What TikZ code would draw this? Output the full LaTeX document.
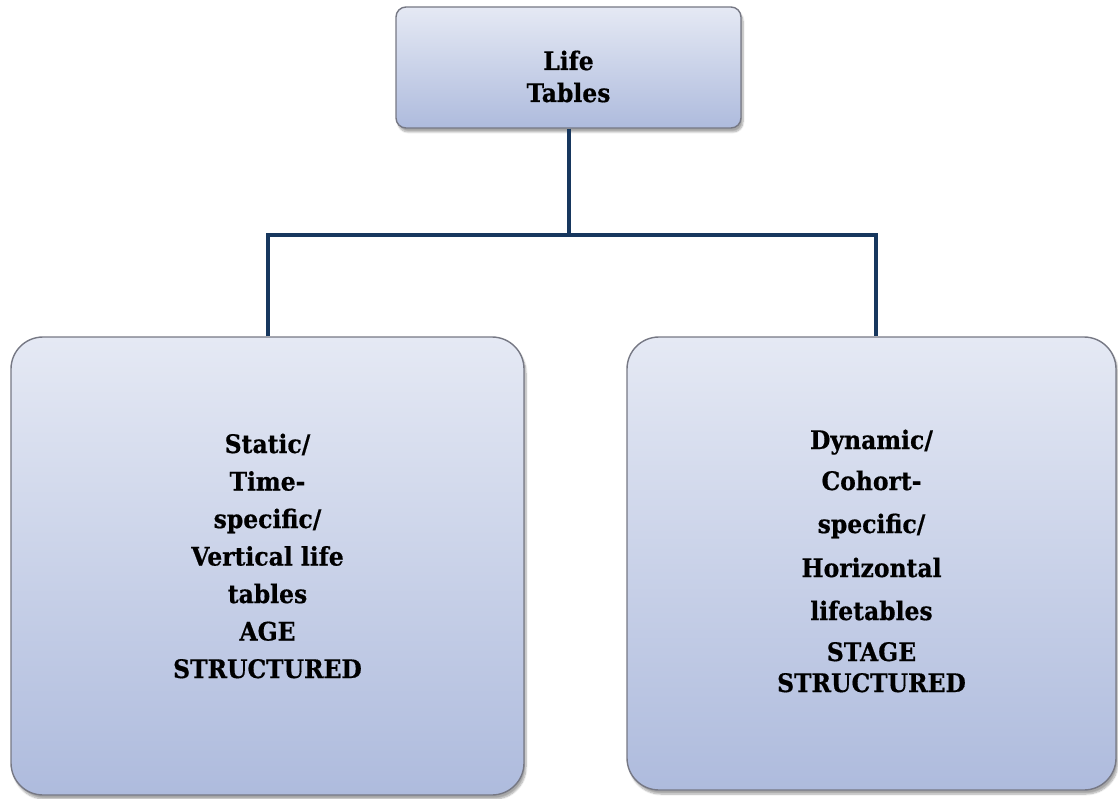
\documentclass[tikz,border=0pt]{standalone}
\usepackage{fontspec}
\newfontfamily\lblfont{DejaVu Serif}[FakeStretch=0.92, BoldFeatures={FakeBold=0.6}]
\usetikzlibrary{shadows.blur}
\definecolor{boxtop}{RGB}{229,233,244}
\definecolor{boxbot}{RGB}{174,187,221}
\definecolor{boxedge}{RGB}{118,120,132}
\definecolor{navy}{RGB}{23,55,94}
\tikzset{
  box/.style={draw=boxedge, line width=1.4pt, top color=boxtop, bottom color=boxbot,
    inner sep=0pt,
    blur shadow={shadow xshift=2pt, shadow yshift=-4pt, shadow blur steps=8, shadow opacity=35}},
  bigbox/.style={box, rounded corners=32pt},
  topbox/.style={box, rounded corners=10pt},
  lbl/.style={font=\lblfont\bfseries\fontsize{25.5}{30}\selectfont, text=black, inner sep=0pt, anchor=base},
  conn/.style={draw=navy, line width=4pt}
}
\begin{document}
\begin{tikzpicture}[x=1pt, y=-1pt]
\useasboundingbox (0,0) rectangle (1118,799);

% boxes
\node[topbox, minimum width=345pt, minimum height=121pt] (top) at (568.5,67.5) {};
\node[bigbox, minimum width=513pt, minimum height=458pt] (left) at (267.5,566) {};
\node[bigbox, minimum width=489pt, minimum height=453pt] (right) at (871.5,563.5) {};

% connectors
\coordinate (j) at (568.5,235);
\draw[conn] (top.south) -- (top.south |- j);
\draw[conn, line join=miter] (left.north) -- (left.north |- j) -- ([xshift=4.5pt]right.north |- j) -- ([xshift=4.5pt]right.north);

% top label
\node[lbl] (t1) at (568.5,70) {Life};
\node[lbl] (t2) at (568.5,102) {Tables};

% left label
\node[lbl] (l1) at (267.5,453) {Static/};
\node[lbl] (l2) at (267.5,490.5) {Time-};
\node[lbl] (l3) at (267.5,528) {specific/};
\node[lbl] (l4) at (267.5,565.5) {Vertical life};
\node[lbl] (l5) at (267.5,603) {tables};
\node[lbl] (l6) at (267.5,640.5) {AGE};
\node[lbl] (l7) at (267.5,678) {STRUCTURED};

% right label
\node[lbl] (r1) at (871.5,449) {Dynamic/};
\node[lbl] (r2) at (871.5,490) {Cohort-};
\node[lbl] (r3) at (871.5,533) {specific/};
\node[lbl] (r4) at (871.5,577) {Horizontal};
\node[lbl] (r5) at (871.5,620) {lifetables};
\node[lbl] (r6) at (871.5,661) {STAGE};
\node[lbl] (r7) at (871.5,692) {STRUCTURED};
\end{tikzpicture}
\end{document}
